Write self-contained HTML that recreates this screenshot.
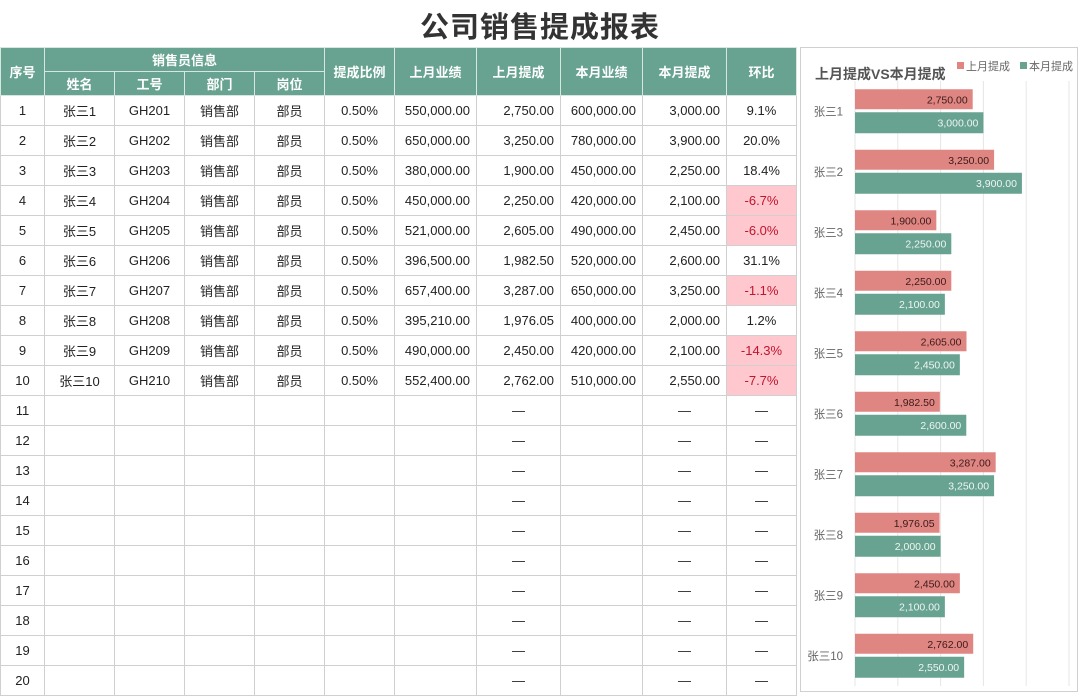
<!DOCTYPE html>
<html><head><meta charset="utf-8">
<style>
body{margin:0;width:1080px;height:694px;background:#fff;overflow:hidden;font-family:"Liberation Sans","Noto Sans CJK SC",sans-serif;color:#222;position:relative}
#title{position:absolute;left:0;top:4px;width:1080px;text-align:center;font-size:29px;font-weight:bold;color:#333;letter-spacing:1px}
table{position:absolute;left:0;top:47px;border-collapse:collapse;table-layout:fixed;font-size:13px}
td,th{border:1px solid #d0d0d0;text-align:center;padding:0;overflow:hidden;white-space:nowrap}
th{background:#68a391;color:#fff;font-weight:bold;border-color:#d8e6e0;height:23px}
td{height:29px}
td.r{text-align:right;padding-right:6px}
td.neg{background:#ffc7ce;color:#c0152f}
#chart{position:absolute;left:800px;top:47px;width:278px;height:645px;border:1px solid #d0d0d0;box-sizing:border-box}
</style></head><body>
<div id="title">公司销售提成报表</div>
<table id="tbl">
<colgroup><col style="width:44px"><col style="width:70px"><col style="width:70px"><col style="width:70px"><col style="width:70px"><col style="width:70px"><col style="width:82px"><col style="width:84px"><col style="width:82px"><col style="width:84px"><col style="width:70px"></colgroup>
<thead>
<tr><th rowspan="2">序号</th><th colspan="4">销售员信息</th><th rowspan="2">提成比例</th><th rowspan="2">上月业绩</th><th rowspan="2">上月提成</th><th rowspan="2">本月业绩</th><th rowspan="2">本月提成</th><th rowspan="2">环比</th></tr>
<tr><th>姓名</th><th>工号</th><th>部门</th><th>岗位</th></tr>
</thead>
<tbody id="tb"></tbody>
</table>
<svg id="chart" width="278" height="645"></svg>
<script>
const names=["张三1","张三2","张三3","张三4","张三5","张三6","张三7","张三8","张三9","张三10"];
const lastSales=[550000,650000,380000,450000,521000,396500,657400,395210,490000,552400];
const lastComm=[2750,3250,1900,2250,2605,1982.5,3287,1976.05,2450,2762];
const thisSales=[600000,780000,450000,420000,490000,520000,650000,400000,420000,510000];
const thisComm=[3000,3900,2250,2100,2450,2600,3250,2000,2100,2550];
const fmt=v=>v.toLocaleString('en-US',{minimumFractionDigits:2,maximumFractionDigits:2});
const tb=document.getElementById('tb');
for(let i=0;i<20;i++){
  const tr=document.createElement('tr');
  
  
  let cells;
  if(i<10){
    const m=(thisComm[i]-lastComm[i])/lastComm[i]*100;
    cells=[[i+1,''],[names[i],''],['GH'+(201+i),''],['销售部',''],['部员',''],['0.50%',''],[fmt(lastSales[i]),'r'],[fmt(lastComm[i]),'r'],[fmt(thisSales[i]),'r'],[fmt(thisComm[i]),'r'],[m.toFixed(1)+'%',m<0?'neg':'']];
  } else {
    cells=[[i+1,''],['',''],['',''],['',''],['',''],['',''],['',''],['—',''],['',''],['—',''],['—','']];
  }
  cells.forEach((c,j)=>{const td=document.createElement('td');td.textContent=c[0];if(c[1])td.className=c[1];
    
    
    tr.appendChild(td);});
  tb.appendChild(tr);
}
// chart
const svg=document.getElementById('chart');const NS='http://www.w3.org/2000/svg';
function el(t,a,txt){const e=document.createElementNS(NS,t);for(const k in a)e.setAttribute(k,a[k]);if(txt!=null)e.textContent=txt;svg.appendChild(e);return e;}
const x0=54,xMax=5000,pxPer=(268-54)/5000;
const xs=v=>x0+v*pxPer;
const top0=33,band=60.5;
const yc=i=>top0+band*i+band/2;
for(let g=0;g<=5000;g+=1000){const l=el('line',{x1:xs(g),x2:xs(g),y1:top0,y2:top0+band*10,stroke:'#e6e6e6','stroke-width':1});

}
const t=el('text',{x:14,y:31,'font-size':14,'font-weight':'bold',fill:'#555'},'上月提成VS本月提成');


let r=el('rect',{x:156,y:14,width:7,height:7,fill:'#e08682'});

let lt=el('text',{x:165,y:22,'font-size':11,fill:'#666'},'上月提成');

r=el('rect',{x:219,y:14,width:7,height:7,fill:'#68a391'});

lt=el('text',{x:228,y:22,'font-size':11,fill:'#666'},'本月提成');

names.forEach((n,i)=>{
  const c=yc(i);
  const lab=el('text',{x:42,y:c+4,'font-size':11.5,fill:'#666','text-anchor':'end'},n);
  
  
  const b1=el('rect',{x:x0,y:c-22,width:xs(lastComm[i])-x0,height:20,fill:'#e08682'});
  
  
  const t1=el('text',{x:xs(lastComm[i])-5,y:c-8,'font-size':10.5,fill:'#3a1a1a','text-anchor':'end'},fmt(lastComm[i]));
  
  
  const b2=el('rect',{x:x0,y:c+1,width:xs(thisComm[i])-x0,height:21,fill:'#68a391'});
  
  
  const t2=el('text',{x:xs(thisComm[i])-5,y:c+15,'font-size':10.5,fill:'#eef5f2','text-anchor':'end'},fmt(thisComm[i]));
  
  
});
</script>
</body></html>
